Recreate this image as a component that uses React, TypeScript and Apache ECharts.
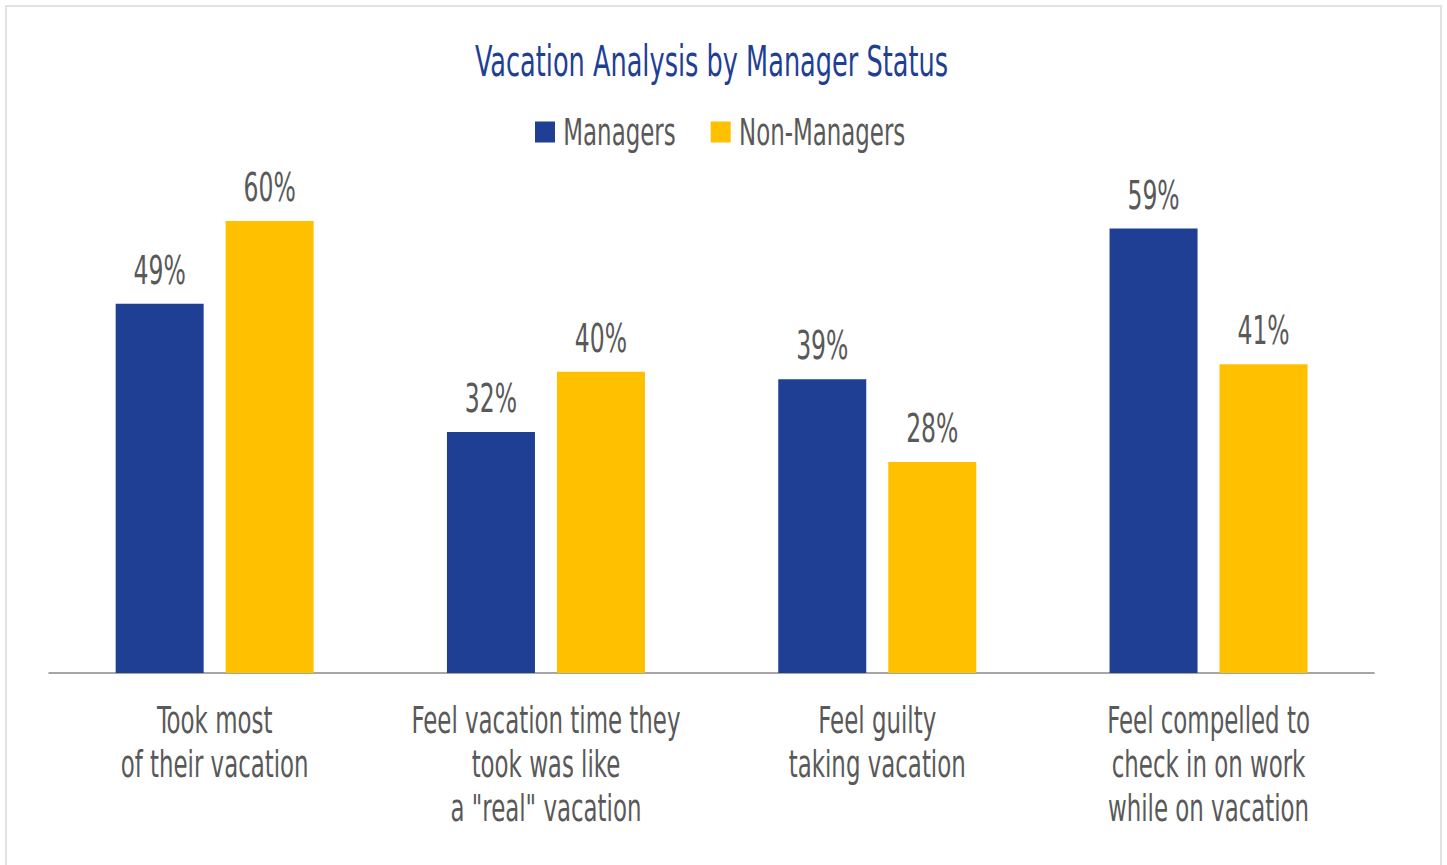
import React, { useEffect, useRef } from "react";
import * as echarts from "echarts";

const categories = [
  "Took most\nof their vacation",
  "Feel vacation time they\ntook was like\na \"real\" vacation",
  "Feel guilty\ntaking vacation",
  "Feel compelled to\ncheck in on work\nwhile on vacation",
];
const managers = [49, 32, 39, 59];
const nonManagers = [60, 40, 28, 41];

const FONT = "'Liberation Sans Narrow', 'DejaVu Sans Condensed', 'Arial Narrow', Roboto, sans-serif";
const GRAY = "#595959";
const BLUE = "#1F3F95";
const GOLD = "#FFC000";

// horizontal condensing factor (the reference uses a condensed typeface)
const SX = 0.67;
const W = 1447;
const H = 865;
const IW = W / SX;

export default function App() {
  const ref = useRef<HTMLDivElement>(null);
  useEffect(() => {
    if (!ref.current) return;
    const chart = echarts.init(ref.current, null, { renderer: "svg" });
    const label = {
      show: true,
      position: "top",
      distance: 14,
      formatter: "{c}%",
      color: GRAY,
      fontFamily: FONT,
      fontSize: 39,
    };
    chart.setOption({
      animation: false,
      backgroundColor: "transparent",
      title: {
        text: "Vacation Analysis by Manager Status",
        left: 475 / SX,
        top: 40,
        padding: 0,
        textStyle: { color: BLUE, fontFamily: FONT, fontSize: 42.5, fontWeight: "normal" },
      },
      legend: {
        top: 113,
        left: 535 / SX,
        padding: 0,
        itemWidth: 20 / SX,
        itemHeight: 21,
        itemGap: 35 / SX,
        icon: "rect",
        textStyle: { color: GRAY, fontFamily: FONT, fontSize: 38, padding: [0, 0, 0, 5 / SX] },
        data: ["Managers", "Non-Managers"],
      },
      grid: { left: 49 / SX, right: 73 / SX, top: 221, bottom: 192, containLabel: false },
      xAxis: {
        type: "category",
        data: categories,
        axisLine: { lineStyle: { color: "#a6a6a6", width: 2 } },
        axisTick: { show: false },
        axisLabel: {
          color: GRAY,
          fontFamily: FONT,
          fontSize: 38,
          lineHeight: 44,
          margin: 25,
          interval: 0,
        },
      },
      yAxis: {
        type: "value",
        min: 0,
        max: 60,
        show: false,
        splitLine: { show: false },
      },
      series: [
        {
          name: "Managers",
          type: "bar",
          data: managers,
          barWidth: 88 / SX,
          barGap: "25%",
          itemStyle: { color: BLUE },
          label,
        },
        {
          name: "Non-Managers",
          type: "bar",
          data: nonManagers,
          barWidth: 88 / SX,
          barGap: "25%",
          itemStyle: { color: GOLD },
          label,
        },
      ],
    });
    return () => chart.dispose();
  }, []);
  return (
    <div
      style={{
        position: "fixed",
        left: 0,
        top: 0,
        width: W,
        height: H,
        background: "#ffffff",
        overflow: "hidden",
      }}
    >
      <div
        style={{
          position: "absolute",
          left: 5,
          top: 5,
          width: 1433,
          height: 900,
          border: "2.5px solid #e2e2e2",
        }}
      />
      <div
        ref={ref}
        style={{
          position: "absolute",
          left: 0,
          top: 0,
          width: IW,
          height: H,
          transform: `scaleX(${SX})`,
          transformOrigin: "0 0",
        }}
      />
    </div>
  );
}
